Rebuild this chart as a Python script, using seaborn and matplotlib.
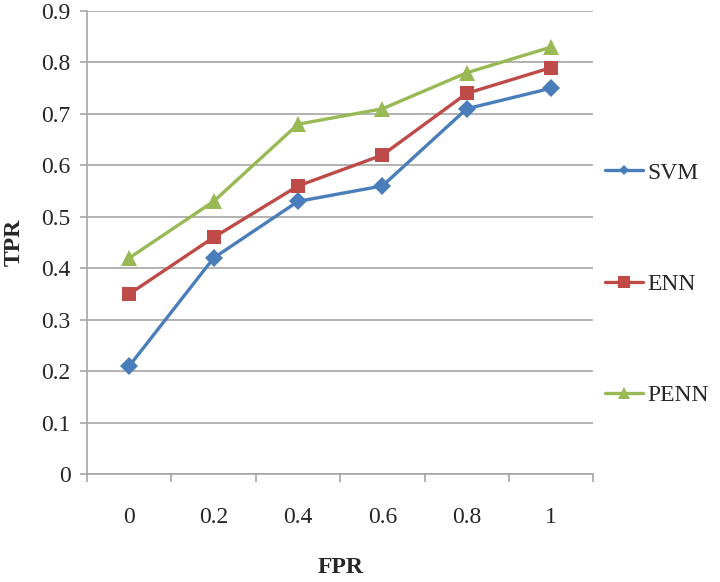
import matplotlib
matplotlib.use("Agg")
import matplotlib.pyplot as plt
import seaborn as sns
import pandas as pd
import numpy as np

categories = ["0", "0.2", "0.4", "0.6", "0.8", "1"]
svm = [0.21, 0.42, 0.53, 0.56, 0.71, 0.75]
enn = [0.35, 0.46, 0.56, 0.62, 0.74, 0.79]
penn = [0.42, 0.53, 0.68, 0.71, 0.78, 0.83]
series_names = ["SVM", "ENN", "PENN"]
y_ticks = [0, 0.1, 0.2, 0.3, 0.4, 0.5, 0.6, 0.7, 0.8, 0.9]

colors = {"SVM": "#4A7EBB", "ENN": "#BE4B48", "PENN": "#98B954"}
markers = {"SVM": "D", "ENN": "s", "PENN": "^"}
msizes = {"SVM": 9, "ENN": 10, "PENN": 11}

rows = []
for name, vals in zip(series_names, [svm, enn, penn]):
    for i, v in enumerate(vals):
        rows.append({"pos": i, "FPR": categories[i], "TPR": v, "series": name})
df = pd.DataFrame(rows)

sns.set_style("white")
plt.rcParams["font.family"] = ["Liberation Serif", "DejaVu Serif"]
FS = 17

fig = plt.figure(figsize=(7.2, 5.82), dpi=100)
ax = fig.add_axes([0.121, 0.1856, 0.703, 0.7954])

sns.lineplot(data=df, x="pos", y="TPR", hue="series", style="series",
             hue_order=series_names, style_order=series_names,
             palette=colors, markers=markers, dashes=False,
             linewidth=2.4, markersize=10, markeredgewidth=0, ax=ax, legend=False)

for line, name in zip(ax.lines, series_names):
    line.set_markeredgecolor(colors[name])
    line.set_markerfacecolor(colors[name])
    line.set_markersize(msizes[name])

grid_col = "#A6A6A6"
ax.set_ylim(0, 0.9)
ax.set_xlim(-0.5, len(categories) - 0.5)
ax.set_yticks(y_ticks)
ax.set_yticklabels([f"{t:g}" for t in y_ticks], fontsize=FS)
ax.yaxis.grid(True, color=grid_col, linewidth=1.2)
ax.set_axisbelow(True)

# x: boundary ticks (major, no label) and centered labels (minor)
ax.set_xticks(np.arange(-0.5, len(categories), 1.0))
ax.set_xticklabels([])
ax.set_xticks(np.arange(len(categories)), minor=True)
ax.set_xticklabels(categories, minor=True, fontsize=FS)
ax.tick_params(axis="x", which="major", direction="out", length=6, width=1.2, color=grid_col, bottom=True)
ax.tick_params(axis="x", which="minor", length=0, pad=24, bottom=True)
ax.tick_params(axis="y", which="major", direction="out", length=5, width=1.2, color=grid_col, left=True, pad=7)

for side in ["top", "right"]:
    ax.spines[side].set_visible(False)
for side in ["left", "bottom"]:
    ax.spines[side].set_color(grid_col)
    ax.spines[side].set_linewidth(1.2)

ax.set_xlabel("FPR", fontsize=FS, fontweight="bold", labelpad=21)
ax.set_ylabel("TPR", fontsize=FS, fontweight="bold", labelpad=12)

handles = []
for name in series_names:
    h, = ax.plot([], [], color=colors[name], marker=markers[name], linewidth=2.4,
                 markersize={"SVM": 5.5, "ENN": 8, "PENN": 8.5}[name], markeredgewidth=0)
    handles.append(h)
leg = ax.legend(handles, series_names, loc="center left", bbox_to_anchor=(1.005, 0.41),
                frameon=False, fontsize=FS, handlelength=1.6, handletextpad=0.2,
                labelspacing=3.8, borderaxespad=0)

fig.savefig("out.png", dpi=100)
